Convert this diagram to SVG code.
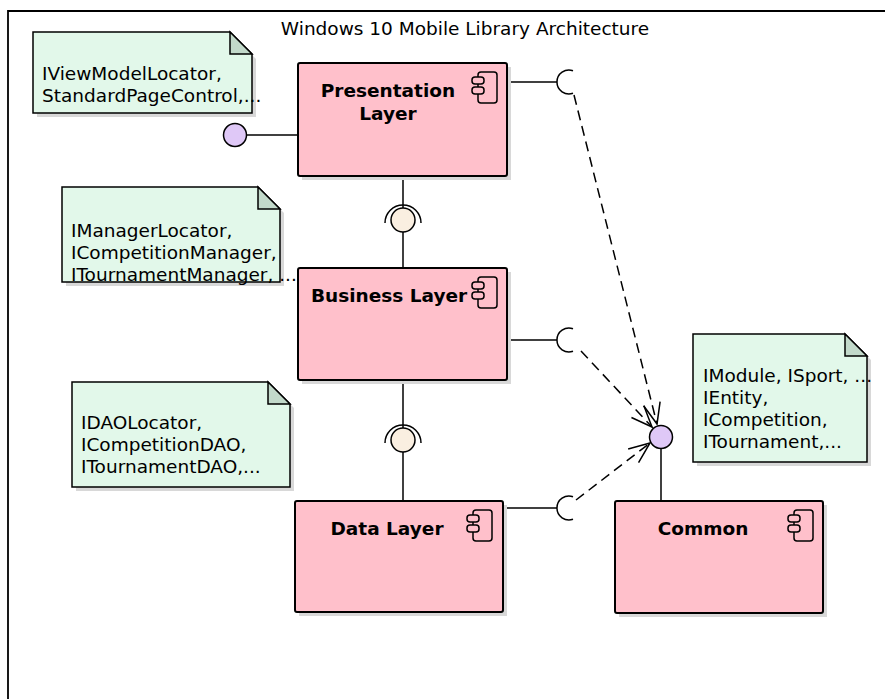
<svg xmlns="http://www.w3.org/2000/svg" width="885" height="699" viewBox="0 0 885 699">
<defs>
<style>
text{font-family:"DejaVu Sans","Liberation Sans",sans-serif;fill:#000}
.t{font-size:18.5px}
.nt{font-size:18.5px}
.ct{font-size:18.5px;font-weight:bold}
.comp{fill:#FFC0CB;stroke:#000;stroke-width:2}
.shadow{fill:#d8d8d8}
.note{fill:#E2F8EA;stroke:#000;stroke-width:1.5}
.fold{fill:#C2D9CA;stroke:#000;stroke-width:1.5}
.ln{stroke:#000;stroke-width:1.5;fill:none}
.dash{stroke:#000;stroke-width:1.5;fill:none;stroke-dasharray:10,6}
.icon{fill:#FFC0CB;stroke:#000;stroke-width:1.5}
</style>
<marker id="arr" markerUnits="userSpaceOnUse" markerWidth="24" markerHeight="20" refX="21" refY="9" orient="auto" overflow="visible">
<path d="M0,0.5 L21,9 L0,17.5" fill="none" stroke="#000" stroke-width="1.5" stroke-dasharray="none"/>
</marker>
<g id="cicon">
<rect x="6" y="0" width="19" height="31" rx="3" class="icon"/>
<rect x="0" y="5" width="12" height="7" rx="3" class="icon"/>
<rect x="0" y="15" width="12" height="7" rx="3" class="icon"/>
</g>
</defs>
<rect width="885" height="699" fill="#fff"/>
<path d="M8,699 L8,11 L885,11" fill="none" stroke="#000" stroke-width="1.8"/>
<text x="465" y="35" class="t" text-anchor="middle">Windows 10 Mobile Library Architecture</text>

<g id="note1">
<path class="shadow" d="M37,36 L233,36 L256,59 L256,117 L37,117 Z"/>
<path class="note" d="M33,32 L230,32 L252,54 L252,113 L33,113 Z"/>
<path class="fold" d="M230,32 L230,54 L252,54 Z"/>
<text class="nt" x="42" y="80">IViewModelLocator,</text>
<text class="nt" x="42" y="102">StandardPageControl,...</text>
</g>

<g id="note2">
<path class="shadow" d="M66,191 L262,191 L284,213 L284,286 L66,286 Z"/>
<path class="note" d="M62,187 L258,187 L280,209 L280,282 L62,282 Z"/>
<path class="fold" d="M258,187 L258,209 L280,209 Z"/>
<text class="nt" x="71" y="237">IManagerLocator,</text>
<text class="nt" x="71" y="259">ICompetitionManager,</text>
<text class="nt" x="71" y="281">ITournamentManager, ...</text>
</g>

<g id="note3">
<path class="shadow" d="M76,386 L272,386 L294,408 L294,491 L76,491 Z"/>
<path class="note" d="M72,382 L268,382 L290,404 L290,487 L72,487 Z"/>
<path class="fold" d="M268,382 L268,404 L290,404 Z"/>
<text class="nt" x="81" y="429">IDAOLocator,</text>
<text class="nt" x="81" y="451">ICompetitionDAO,</text>
<text class="nt" x="81" y="473">ITournamentDAO,...</text>
</g>

<g id="note4">
<path class="shadow" d="M697,338 L849,338 L871,360 L871,466 L697,466 Z"/>
<path class="note" d="M693,334 L845,334 L867,356 L867,462 L693,462 Z"/>
<path class="fold" d="M845,334 L845,356 L867,356 Z"/>
<text class="nt" x="703" y="382">IModule, ISport, ...</text>
<text class="nt" x="703" y="404">IEntity,</text>
<text class="nt" x="703" y="426">ICompetition,</text>
<text class="nt" x="703" y="448">ITournament,...</text>
</g>

<g id="connectors">
<line class="ln" x1="235" y1="135" x2="298" y2="135"/>
<line class="ln" x1="403" y1="176" x2="403" y2="208"/>
<line class="ln" x1="403" y1="232" x2="403" y2="268"/>
<line class="ln" x1="403" y1="380" x2="403" y2="428"/>
<line class="ln" x1="403" y1="452" x2="403" y2="501"/>
<line class="ln" x1="507" y1="82" x2="557" y2="82"/>
<line class="ln" x1="507" y1="340" x2="557" y2="340"/>
<line class="ln" x1="503" y1="508" x2="557" y2="508"/>
<line class="ln" x1="661" y1="449" x2="661" y2="501"/>
<path class="ln" d="M573,70.7 A12,12 0 1 0 573,93.3"/>
<path class="ln" d="M573,328.7 A12,12 0 1 0 573,351.3"/>
<path class="ln" d="M573,496.7 A12,12 0 1 0 573,519.3"/>
<path class="ln" d="M385,223 A18,18 0 1 1 421,223"/>
<path class="ln" d="M385,443 A18,18 0 1 1 421,443"/>
<line class="dash" x1="574" y1="95" x2="657" y2="424" marker-end="url(#arr)"/>
<line class="dash" x1="581" y1="351" x2="652" y2="427" marker-end="url(#arr)"/>
<line class="dash" x1="576" y1="500" x2="650" y2="443" marker-end="url(#arr)"/>
</g>

<g id="iface-left"><circle cx="235" cy="135" r="11.5" fill="#DFC8F7" stroke="#000" stroke-width="1.5"/></g>
<g id="iface-business"><circle cx="403" cy="220" r="12" fill="#FAEFE1" stroke="#000" stroke-width="1.5"/></g>
<g id="iface-data"><circle cx="403" cy="440" r="12" fill="#FAEFE1" stroke="#000" stroke-width="1.5"/></g>
<g id="iface-common"><circle cx="661" cy="437" r="11.5" fill="#DFC8F7" stroke="#000" stroke-width="1.5"/></g>

<g id="presentation">
<rect class="shadow" x="302" y="67" width="209" height="113"/>
<rect class="comp" x="298" y="63" width="209" height="113" rx="2"/>
<text class="ct" x="388" y="97" text-anchor="middle">Presentation</text>
<text class="ct" x="388" y="120" text-anchor="middle">Layer</text>
<use href="#cicon" x="472" y="72"/>
</g>

<g id="business">
<rect class="shadow" x="302" y="272" width="209" height="112"/>
<rect class="comp" x="298" y="268" width="209" height="112" rx="2"/>
<text class="ct" x="389" y="302" text-anchor="middle">Business Layer</text>
<use href="#cicon" x="472" y="277"/>
</g>

<g id="data">
<rect class="shadow" x="299" y="505" width="208" height="111"/>
<rect class="comp" x="295" y="501" width="208" height="111" rx="2"/>
<text class="ct" x="387" y="535" text-anchor="middle">Data Layer</text>
<use href="#cicon" x="467" y="510"/>
</g>

<g id="common">
<rect class="shadow" x="619" y="505" width="208" height="112"/>
<rect class="comp" x="615" y="501" width="208" height="112" rx="2"/>
<text class="ct" x="703" y="535" text-anchor="middle">Common</text>
<use href="#cicon" x="788" y="510"/>
</g>
</svg>
